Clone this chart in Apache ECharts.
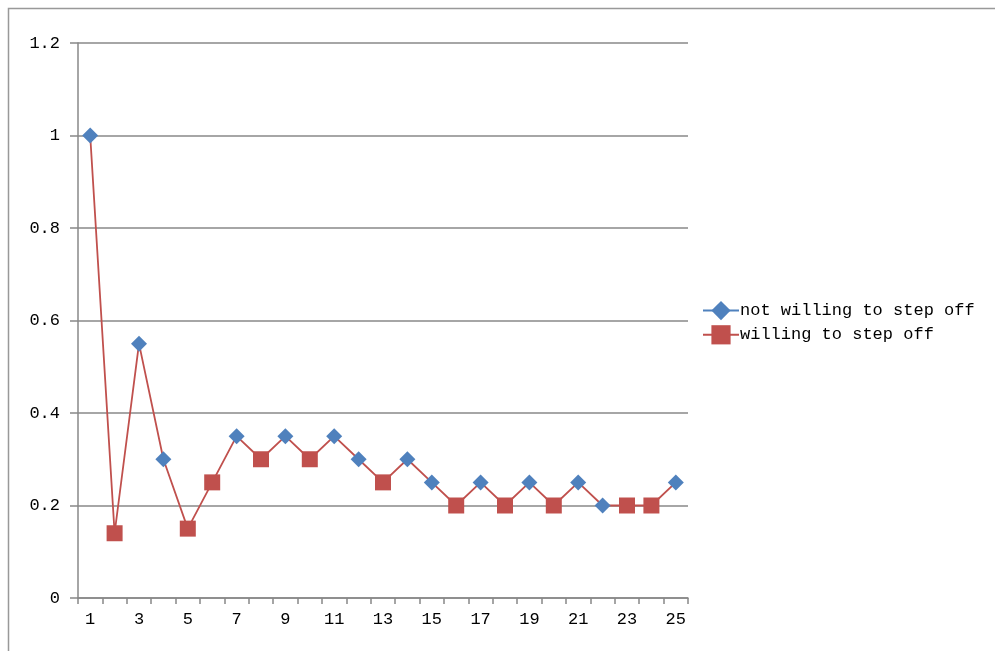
<!DOCTYPE html>
<html>
<head>
<meta charset="utf-8">
<script src="https://cdn.jsdelivr.net/npm/echarts@6/dist/echarts.min.js"></script>
<style>
  html, body { margin: 0; padding: 0; background: #fff; }
  #chart { width: 995px; height: 651px; }
</style>
</head>
<body>
<div id="chart"></div>
<script>
// Rounds 1..25
const categories = ['1','2','3','4','5','6','7','8','9','10','11','12','13','14','15','16','17','18','19','20','21','22','23','24','25'];

// Share per round, split by group (null where the round belongs to the other group)
const notWilling = [1.0, null, 0.55, 0.30, null, null, 0.35, null, 0.35, null, 0.35, 0.30, null, 0.30, 0.25, null, 0.25, null, 0.25, null, 0.25, 0.20, null, null, 0.25];
const willing    = [null, 0.14, null, null, 0.15, 0.25, null, 0.30, null, 0.30, null, null, 0.25, null, null, 0.20, null, 0.20, null, 0.20, null, null, 0.20, 0.20, null];

const yTicks = { min: 0, max: 1.2, interval: 0.2 };

// Connecting path through every round
const path = categories.map((_, i) => notWilling[i] != null ? notWilling[i] : willing[i]);

const BLUE = '#4F81BD';
const RED = '#C0504D';
const GRID = '#888888';
const FONT = '"Liberation Mono", "DejaVu Sans Mono", monospace';

const chart = echarts.init(document.getElementById('chart'));
chart.setOption({
  animation: false,
  backgroundColor: '#fff',
  graphic: [{
    type: 'rect',
    shape: { x: 8.5, y: 8.5, width: 1100, height: 800 },
    style: { fill: 'none', stroke: '#999', lineWidth: 1.5 },
    silent: true
  }],
  grid: { left: 78, top: 43, width: 610, height: 555 },
  legend: {
    orient: 'vertical',
    left: 697,
    top: 296,
    itemWidth: 36,
    itemHeight: 24,
    itemGap: 5,
    textStyle: { fontFamily: FONT, fontSize: 17, color: '#000', padding: [0, 0, 0, -4] },
    data: [
      { name: 'not willing to step off',
        itemStyle: { color: BLUE }, lineStyle: { color: BLUE, width: 2 } },
      { name: 'willing to step off',
        itemStyle: { color: RED }, lineStyle: { color: RED, width: 2 } }
    ]
  },
  xAxis: {
    type: 'category',
    data: categories,
    boundaryGap: true,
    axisLine: { lineStyle: { color: GRID, width: 1.5 } },
    axisTick: { show: true, length: 6, interval: 0, lineStyle: { color: GRID, width: 1.5 } },
    axisLabel: { interval: 1, color: '#000', fontFamily: FONT, fontSize: 17, margin: 13 },
    splitLine: { show: false }
  },
  yAxis: {
    type: 'value',
    min: yTicks.min,
    max: yTicks.max,
    interval: yTicks.interval,
    axisLine: { show: true, lineStyle: { color: GRID, width: 1.5 } },
    axisTick: { show: true, length: 8, lineStyle: { color: GRID, width: 1.5 } },
    axisLabel: {
      color: '#000', fontFamily: FONT, fontSize: 17, margin: 18,
      formatter: v => (Math.round(v * 10) / 10).toString()
    },
    splitLine: { lineStyle: { color: GRID, width: 1.5 } }
  },
  series: [
    {
      name: 'path',
      type: 'line',
      data: path,
      symbol: 'none',
      lineStyle: { color: RED, width: 1.8 },
      z: 2
    },
    {
      name: 'willing to step off',
      type: 'line',
      data: willing,
      symbol: 'rect',
      symbolSize: 16,
      itemStyle: { color: RED },
      lineStyle: { width: 0 },
      connectNulls: false,
      z: 3
    },
    {
      name: 'not willing to step off',
      type: 'line',
      data: notWilling,
      symbol: 'diamond',
      symbolSize: 16,
      itemStyle: { color: BLUE },
      lineStyle: { width: 0 },
      connectNulls: false,
      z: 4
    }
  ]
});
</script>
</body>
</html>
